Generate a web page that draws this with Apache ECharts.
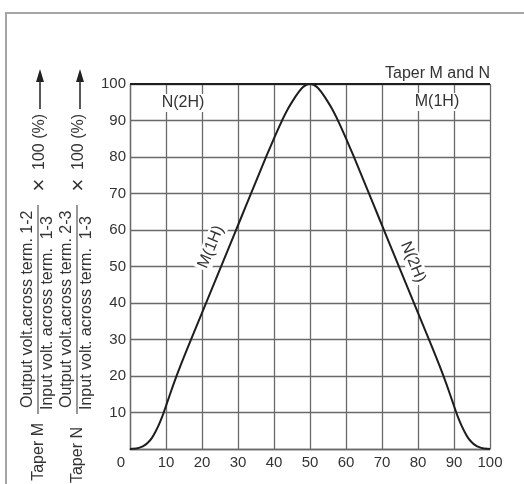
<!DOCTYPE html>
<html>
<head>
<meta charset="utf-8">
<script src="https://cdn.jsdelivr.net/npm/echarts@6/dist/echarts.min.js"></script>
<style>
  html, body { margin: 0; padding: 0; background: #fff; }
  #chart { width: 524px; height: 484px; }
</style>
</head>
<body>
<div id="chart"></div>
<script>
// taper curves (rotation % vs output %)
var riseX = [0, 2, 3, 4, 5, 6, 7, 8, 9, 10, 12, 14, 16, 18, 20, 22, 24, 26, 28, 30, 32, 34, 36, 38, 40, 42, 44, 46, 47, 48, 49, 50];
var riseY = [0, 0.2, 0.5, 1.0, 1.8, 2.9, 4.6, 6.6, 9.0, 11.8, 17.5, 22.8, 27.7, 32.5, 37.3, 42.1, 46.9, 51.7, 56.5, 61.3, 66.1, 70.9, 75.7, 80.5, 85.1, 89.5, 93.4, 96.6, 98.0, 99.1, 99.8, 100];
var fallX = [50, 51, 52, 53, 54, 56, 58, 60, 62, 64, 66, 68, 70, 72, 74, 76, 78, 80, 82, 84, 86, 88, 90, 91, 92, 93, 94, 95, 96, 97, 98, 100];
var fallY = [100, 99.8, 99.1, 98.0, 96.6, 93.4, 89.5, 85.1, 80.5, 75.7, 70.9, 66.1, 61.3, 56.5, 51.7, 46.9, 42.1, 37.3, 32.5, 27.7, 22.8, 17.5, 11.8, 9.0, 6.6, 4.6, 2.9, 1.8, 1.0, 0.5, 0.2, 0];
var flatMX = [50, 100];   // M stays at 100 after the middle
var flatNX = [0, 50];     // N is at 100 before the middle
var flatY = [100, 100];
var tickLabels = ['0', '10', '20', '30', '40', '50', '60', '70', '80', '90', '100'];

function pairs(xs, ys) {
  return xs.map(function (x, i) { return [x, ys[i]]; });
}

var font = '"Liberation Sans", Arial, sans-serif';
var txt = '#333';
var gridCol = '#6a6a6a';

var chart = echarts.init(document.getElementById('chart'));

function rot(t, x, y, r, size) {
  return {
    type: 'text', x: x, y: y, rotation: r, z: 10,
    style: {
      text: t, font: (size || 16) + 'px ' + font, fill: txt,
      align: 'center', verticalAlign: 'middle',
      backgroundColor: '#fff', padding: [1, 2]
    }
  };
}

// y axis title, drawn in a frame turned 90 degrees (local x runs upward)
function yTitle(name, num, den, nameEnd, c) {
  return [
    { type: 'text', x: nameEnd, y: c, style: { text: name, font: '16px ' + font, fill: txt, align: 'right', verticalAlign: 'middle' } },
    { type: 'text', x: 76, y: c - 11, style: { text: num, font: '16px ' + font, fill: txt, align: 'left', verticalAlign: 'middle' } },
    { type: 'line', shape: { x1: 70, y1: c - 1, x2: 279, y2: c - 1 }, style: { stroke: '#555', lineWidth: 1.2 } },
    { type: 'text', x: 74, y: c + 9, style: { text: den, font: '16px ' + font, fill: txt, align: 'left', verticalAlign: 'middle' } },
    { type: 'text', x: 299, y: c + 1, style: { text: '×', font: '22px ' + font, fill: txt, align: 'center', verticalAlign: 'middle' } },
    { type: 'text', x: 314, y: c + 1, style: { text: '100 (%)', font: '16px ' + font, fill: txt, align: 'left', verticalAlign: 'middle' } }
  ];
}

function arrow(x) {
  return [
    { type: 'line', shape: { x1: x, y1: 109, x2: x, y2: 78 }, style: { stroke: '#222', lineWidth: 1.5 } },
    { type: 'polygon', shape: { points: [[x - 4, 82], [x + 4, 82], [x, 69]] }, style: { fill: '#222' } }
  ];
}

var option = {
  animation: false,
  backgroundColor: '#fff',
  grid: { left: 130, right: 34, top: 84, bottom: 35 },
  xAxis: {
    type: 'value', min: 0, max: 100, interval: 10,
    axisLine: { show: true, lineStyle: { color: gridCol, width: 1.3 } },
    axisTick: { show: false },
    splitLine: { show: true, lineStyle: { color: gridCol, width: 1.3 } },
    axisLabel: {
      color: txt, fontSize: 15, fontFamily: font, margin: 6,
      formatter: function (v) {
        var s = tickLabels[Math.round(v / 10)];
        return v === 0 ? '{z|' + s + '}' : s;
      },
      rich: { z: { color: txt, fontSize: 15, fontFamily: font, padding: [0, 18, 0, 0] } }
    }
  },
  yAxis: {
    type: 'value', min: 0, max: 100, interval: 10,
    axisLine: { show: true, lineStyle: { color: gridCol, width: 1.3 } },
    axisTick: { show: false },
    splitLine: { show: true, lineStyle: { color: gridCol, width: 1.3 } },
    axisLabel: {
      color: txt, fontSize: 15, fontFamily: font, margin: 4, padding: [8, 0, 0, 0],
      formatter: function (v) { return v === 0 ? '' : tickLabels[Math.round(v / 10)]; }
    }
  },
  series: [
    {
      name: 'Taper M', type: 'line', smooth: 0.2, showSymbol: false,
      lineStyle: { color: '#1e1e1e', width: 2 },
      data: pairs(riseX, riseY).concat(pairs(flatMX, flatY).slice(1))
    },
    {
      name: 'Taper N', type: 'line', smooth: 0.2, showSymbol: false,
      lineStyle: { color: '#1e1e1e', width: 2 },
      data: pairs(flatNX, flatY).concat(pairs(fallX, fallY).slice(1))
    }
  ],
  graphic: [
    { type: 'rect', shape: { x: 6, y: 13, width: 700, height: 700 }, style: { fill: 'none', stroke: '#a5a5a5', lineWidth: 2 } },
    { type: 'text', x: 490, y: 74, style: { text: 'Taper M and N', font: '16px ' + font, fill: txt, align: 'right', verticalAlign: 'middle' } },
    rot('N(2H)', 183, 103, 0),
    rot('M(1H)', 437, 102, 0),
    rot('M(1H)', 211, 247, 1.18),
    rot('N(2H)', 413, 262, -1.18),
    {
      type: 'group', x: 0, y: 484, rotation: Math.PI / 2,
      children: yTitle('Taper M', 'Output volt.across term. 1-2', 'Input volt. across term.  1-3', 61, 39)
        .concat(yTitle('Taper N', 'Output volt.across term. 2-3', 'Input volt. across term.  1-3', 57, 78))
    }
  ].concat(arrow(40), arrow(80))
};

chart.setOption(option);
</script>
</body>
</html>
